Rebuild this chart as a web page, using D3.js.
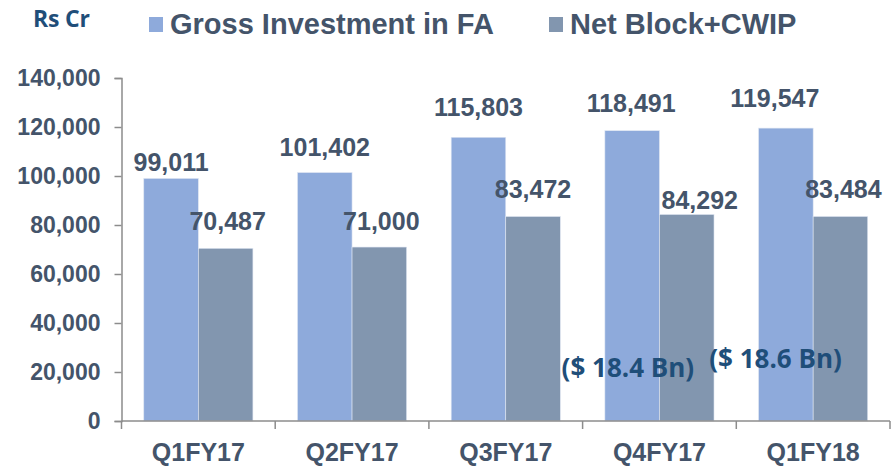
<!DOCTYPE html>
<html>
<head>
<meta charset="utf-8">
<script src="https://cdn.jsdelivr.net/npm/d3@7"></script>
<style>
  body { margin: 0; background: #fff; }
  svg { display: block; }
</style>
</head>
<body>
<svg></svg>
<script>
const width = 895;
const height = 466;

// data
const quarters = ["Q1FY17", "Q2FY17", "Q3FY17", "Q4FY17", "Q1FY18"];
const series = ["Gross Investment in FA", "Net Block+CWIP"];
const gross = [99011, 101402, 115803, 118491, 119547];
const netBlock = [70487, 71000, 83472, 84292, 83484];
const yTicks = [0, 20000, 40000, 60000, 80000, 100000, 120000, 140000];
const notes = [{ q: "Q4FY17", text: "($ 18.4 Bn)" }, { q: "Q1FY18", text: "($ 18.6 Bn)" }];

// hand placed label nudges, as in the original slide
const grossNudge = [[0, -7], [0, -17], [0, -21], [-1, -19], [-11, -21]];
const netNudge = [[2, -18], [2, -17], [0, -18], [13, -5], [3, -18]];
const noteNudge = [[-21, 377], [-27, 368]];

const colors = ["#8eaadb", "#8296af"];
const textColor = "#44546a";
const noteColor = "#1f4e79";
const axisColor = "#8c8c8c";

const svg = d3.select("svg")
    .attr("width", width)
    .attr("height", height);

const x0 = d3.scaleBand()
    .domain(quarters)
    .range([121.5, 890]);
const groupW = x0.bandwidth() * 0.71;
const x1 = d3.scaleBand()
    .domain(series)
    .range([0, groupW]);
const y = d3.scaleLinear()
    .domain([0, 140000])
    .range([421, 78]);

const barX = (q, s) => x0(q) + (x0.bandwidth() - groupW) / 2 + x1(s);

// bars
const sets = [gross, netBlock];
sets.forEach((vals, si) => {
    svg.append("g")
        .selectAll("rect")
        .data(vals)
        .join("rect")
        .attr("x", (d, i) => barX(quarters[i], series[si]))
        .attr("y", d => y(d))
        .attr("width", x1.bandwidth())
        .attr("height", d => y(0) - y(d))
        .attr("fill", colors[si])
        .attr("stroke", "#dfe6f2")
        .attr("stroke-width", 0.6);
});

// y axis
const axisY = svg.append("g")
    .attr("transform", "translate(121.5,0)")
    .call(d3.axisLeft(y).tickValues(yTicks).tickSize(7).tickPadding(14)
        .tickFormat(d => d === 0 ? "0" : d3.format(",")(d)));
axisY.select(".domain").attr("stroke", axisColor).attr("stroke-width", 1.5);
axisY.selectAll("line").attr("stroke", axisColor).attr("stroke-width", 1.5);
axisY.selectAll("text")
    .attr("fill", textColor)
    .style("font", "bold 23px 'Liberation Sans', Arial, sans-serif");

// x axis (ticks at category boundaries)
const axisX = svg.append("g")
    .attr("transform", `translate(0,${y(0)})`);
axisX.append("line")
    .attr("x1", 121.5).attr("x2", 890)
    .attr("stroke", axisColor).attr("stroke-width", 1.5);
axisX.selectAll(".tk")
    .data(quarters.concat(["end"]))
    .join("line")
    .attr("class", "tk")
    .attr("x1", (d, i) => i < quarters.length ? x0(d) : x0.range()[1])
    .attr("x2", (d, i) => i < quarters.length ? x0(d) : x0.range()[1])
    .attr("y2", 8)
    .attr("stroke", axisColor).attr("stroke-width", 1.5);
axisX.selectAll(".lbl")
    .data(quarters)
    .join("text")
    .attr("class", "lbl")
    .attr("x", d => x0(d) + x0.bandwidth() / 2)
    .attr("y", 40)
    .attr("text-anchor", "middle")
    .attr("fill", textColor)
    .style("font", "bold 25px 'Liberation Sans', Arial, sans-serif")
    .text(d => d);

// value labels
const valueFont = "bold 25px 'Liberation Sans', Arial, sans-serif";
sets.forEach((vals, si) => {
    const nudge = si === 0 ? grossNudge : netNudge;
    svg.append("g")
        .selectAll("text")
        .data(vals)
        .join("text")
        .attr("x", (d, i) => barX(quarters[i], series[si]) + x1.bandwidth() / 2 + nudge[i][0])
        .attr("y", (d, i) => y(d) + nudge[i][1])
        .attr("text-anchor", "middle")
        .attr("fill", textColor)
        .style("font", valueFont)
        .text(d => d3.format(",")(d));
});

// dollar notes
svg.append("g")
    .selectAll("text")
    .data(notes)
    .join("text")
    .attr("x", (d, i) => x0(d.q) + noteNudge[i][0])
    .attr("y", (d, i) => noteNudge[i][1])
    .attr("fill", noteColor)
    .style("font", "bold 26px 'Open Sans', 'Noto Sans', sans-serif")
    .text(d => d.text);

// unit
svg.append("text")
    .attr("x", 33)
    .attr("y", 27)
    .attr("fill", noteColor)
    .style("font", "bold 23px 'Open Sans', 'Noto Sans', sans-serif")
    .attr("textLength", 57)
    .text("Rs Cr");

// legend
const legendX = [149, 549];
const legend = svg.append("g")
    .selectAll("g")
    .data(series)
    .join("g")
    .attr("transform", (d, i) => `translate(${legendX[i]},17)`);
legend.append("rect")
    .attr("width", 14)
    .attr("height", 15)
    .attr("fill", (d, i) => colors[i]);
legend.append("text")
    .attr("x", 21)
    .attr("y", 17)
    .attr("fill", textColor)
    .style("font", "bold 29px 'Liberation Sans', Arial, sans-serif")
    .text(d => d);
</script>
</body>
</html>
